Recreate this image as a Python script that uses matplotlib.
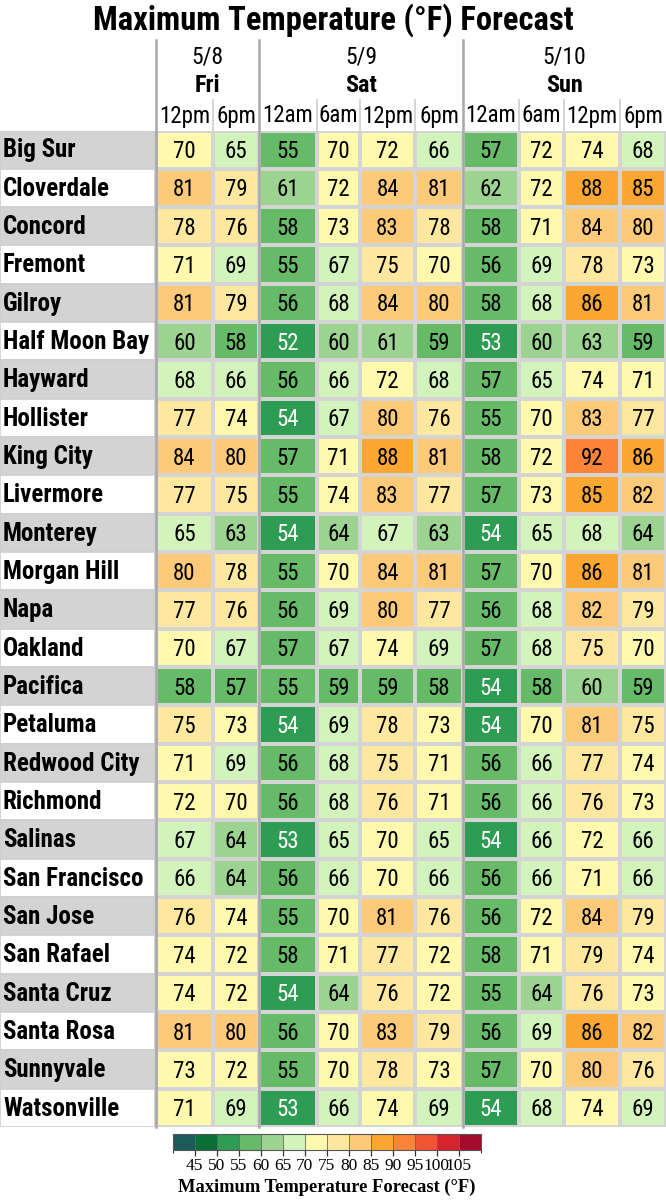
import numpy as np
import matplotlib
matplotlib.use("Agg")
import matplotlib.pyplot as plt
from matplotlib.colors import ListedColormap, BoundaryNorm
from matplotlib.transforms import blended_transform_factory
from matplotlib.lines import Line2D

# ---------------- data ----------------
cities = ["Big Sur", "Cloverdale", "Concord", "Fremont", "Gilroy", "Half Moon Bay",
          "Hayward", "Hollister", "King City", "Livermore", "Monterey", "Morgan Hill",
          "Napa", "Oakland", "Pacifica", "Petaluma", "Redwood City", "Richmond",
          "Salinas", "San Francisco", "San Jose", "San Rafael", "Santa Cruz",
          "Santa Rosa", "Sunnyvale", "Watsonville"]
dates = ["5/8", "5/9", "5/10"]
days = ["Fri", "Sat", "Sun"]
hours = ["12pm", "6pm", "12am", "6am", "12pm", "6pm", "12am", "6am", "12pm", "6pm"]
hours_per_day = [2, 4, 4]
temps = [
    [70, 65, 55, 70, 72, 66, 57, 72, 74, 68],
    [81, 79, 61, 72, 84, 81, 62, 72, 88, 85],
    [78, 76, 58, 73, 83, 78, 58, 71, 84, 80],
    [71, 69, 55, 67, 75, 70, 56, 69, 78, 73],
    [81, 79, 56, 68, 84, 80, 58, 68, 86, 81],
    [60, 58, 52, 60, 61, 59, 53, 60, 63, 59],
    [68, 66, 56, 66, 72, 68, 57, 65, 74, 71],
    [77, 74, 54, 67, 80, 76, 55, 70, 83, 77],
    [84, 80, 57, 71, 88, 81, 58, 72, 92, 86],
    [77, 75, 55, 74, 83, 77, 57, 73, 85, 82],
    [65, 63, 54, 64, 67, 63, 54, 65, 68, 64],
    [80, 78, 55, 70, 84, 81, 57, 70, 86, 81],
    [77, 76, 56, 69, 80, 77, 56, 68, 82, 79],
    [70, 67, 57, 67, 74, 69, 57, 68, 75, 70],
    [58, 57, 55, 59, 59, 58, 54, 58, 60, 59],
    [75, 73, 54, 69, 78, 73, 54, 70, 81, 75],
    [71, 69, 56, 68, 75, 71, 56, 66, 77, 74],
    [72, 70, 56, 68, 76, 71, 56, 66, 76, 73],
    [67, 64, 53, 65, 70, 65, 54, 66, 72, 66],
    [66, 64, 56, 66, 70, 66, 56, 66, 71, 66],
    [76, 74, 55, 70, 81, 76, 56, 72, 84, 79],
    [74, 72, 58, 71, 77, 72, 58, 71, 79, 74],
    [74, 72, 54, 64, 76, 72, 55, 64, 76, 73],
    [81, 80, 56, 70, 83, 79, 56, 69, 86, 82],
    [73, 72, 55, 70, 78, 73, 57, 70, 80, 76],
    [71, 69, 53, 66, 74, 69, 54, 68, 74, 69],
]
bounds = list(range(40, 115, 5))
bin_colors = ['#1c5b5a', '#0b6e34', '#2e9c52', '#66ba68', '#9dd391', '#d2f4bc',
              '#fff9ae', '#fee8a0', '#fdca79', '#fba731', '#fb8439', '#f25533',
              '#d7232b', '#a50b2b']
cbar_ticks = list(range(45, 110, 5))

# ---------------- layout ----------------
W, H = 666, 1200
col_edges = np.array([0, 57, 103, 161, 204, 259, 307, 363, 408, 464, 510])
label_w = 156
tab_top, tab_bot = 130.5, 1127

CF = ['Roboto Condensed', 'Roboto', 'DejaVu Sans']
SERIF = ['Liberation Serif', 'DejaVu Serif']

fig = plt.figure(figsize=(W / 100, H / 100), dpi=100)
ax = fig.add_axes([0, 1 - tab_bot / H, 1, (tab_bot - tab_top) / H])
ax.set_xlim(-label_w, col_edges[-1])
nr = len(cities)
ax.set_ylim(nr, 0)
ax.axis('off')

data = np.array(temps)
cmap = ListedColormap(bin_colors)
norm = BoundaryNorm(bounds, cmap.N)

# cells
ax.pcolormesh(col_edges, np.arange(nr + 1), data, cmap=cmap, norm=norm,
              edgecolors='#d4d4d4', linewidth=1.6)

# label column backgrounds
lab_colors = ['#d3d3d3' if i % 2 == 0 else 'white' for i in range(nr)]
ax.barh(np.arange(nr) + 0.5, label_w - 1, left=-label_w, height=1.0,
        color=lab_colors, edgecolor='#cfcfcf', linewidth=1.2)

centers = (col_edges[:-1] + col_edges[1:]) / 2
for i, name in enumerate(cities):
    ax.text(-label_w + 3, i + 0.52, name, ha='left', va='center',
            fontsize=18, fontweight='bold', family=CF)
    for j, v in enumerate(temps[i]):
        ax.text(centers[j], i + 0.55, str(v), ha='center', va='center',
                fontsize=16.5, family=CF,
                color='white' if v < 55 else 'black')

# header
tr = blended_transform_factory(ax.transData, fig.transFigure)
day_start = np.concatenate([[0], np.cumsum(hours_per_day)])
for d in range(len(days)):
    x0 = col_edges[day_start[d]]
    x1 = col_edges[day_start[d + 1]]
    xm = (x0 + x1) / 2
    fig.add_artist(Line2D([x0, x0], [1 - 40 / H, 1 - tab_bot / H], transform=tr,
                          color='#a8a8a8', lw=1.8, zorder=5))
    ax.text(xm, 1 - 57 / H, dates[d], transform=tr, ha='center', va='center',
            fontsize=17, family=CF)
    ax.text(xm, 1 - 85 / H, days[d], transform=tr, ha='center', va='center',
            fontsize=17.5, fontweight='bold', family=CF)
    for k in range(day_start[d] + 1, day_start[d + 1]):
        xe = col_edges[k]
        fig.add_artist(Line2D([xe, xe], [1 - 100 / H, 1 - tab_top / H], transform=tr,
                              color='#d4d4d4', lw=1.4))
for j, h in enumerate(hours):
    ax.text(centers[j], 1 - 116 / H, h, transform=tr, ha='center', va='center',
            fontsize=16.5, family=CF)

fig.text(0.5, 1 - 20 / H, "Maximum Temperature (°F) Forecast", ha='center', va='center',
         fontsize=23.5, fontweight='bold', family=CF)

# colorbar
cax = fig.add_axes([172.7 / W, 1 - 1150 / H, (480.7 - 172.7) / W, 16 / H])
sm = matplotlib.cm.ScalarMappable(norm=norm, cmap=cmap)
cb = fig.colorbar(sm, cax=cax, orientation='horizontal', ticks=cbar_ticks,
                  drawedges=True, spacing='proportional')
cb.outline.set_edgecolor('#555555')
cb.outline.set_linewidth(0.8)
cb.dividers.set_color('#666666')
cb.dividers.set_linewidth(0.6)
cax.tick_params(length=4, width=0.9, color='#333333', pad=2, labelsize=12.5)
for t in cax.get_xticklabels():
    t.set_family(SERIF)
cb.set_label("Maximum Temperature Forecast (°F)", family=SERIF,
             fontweight='bold', fontsize=13.3, labelpad=3)

fig.savefig("out.png", dpi=100, facecolor='white')
